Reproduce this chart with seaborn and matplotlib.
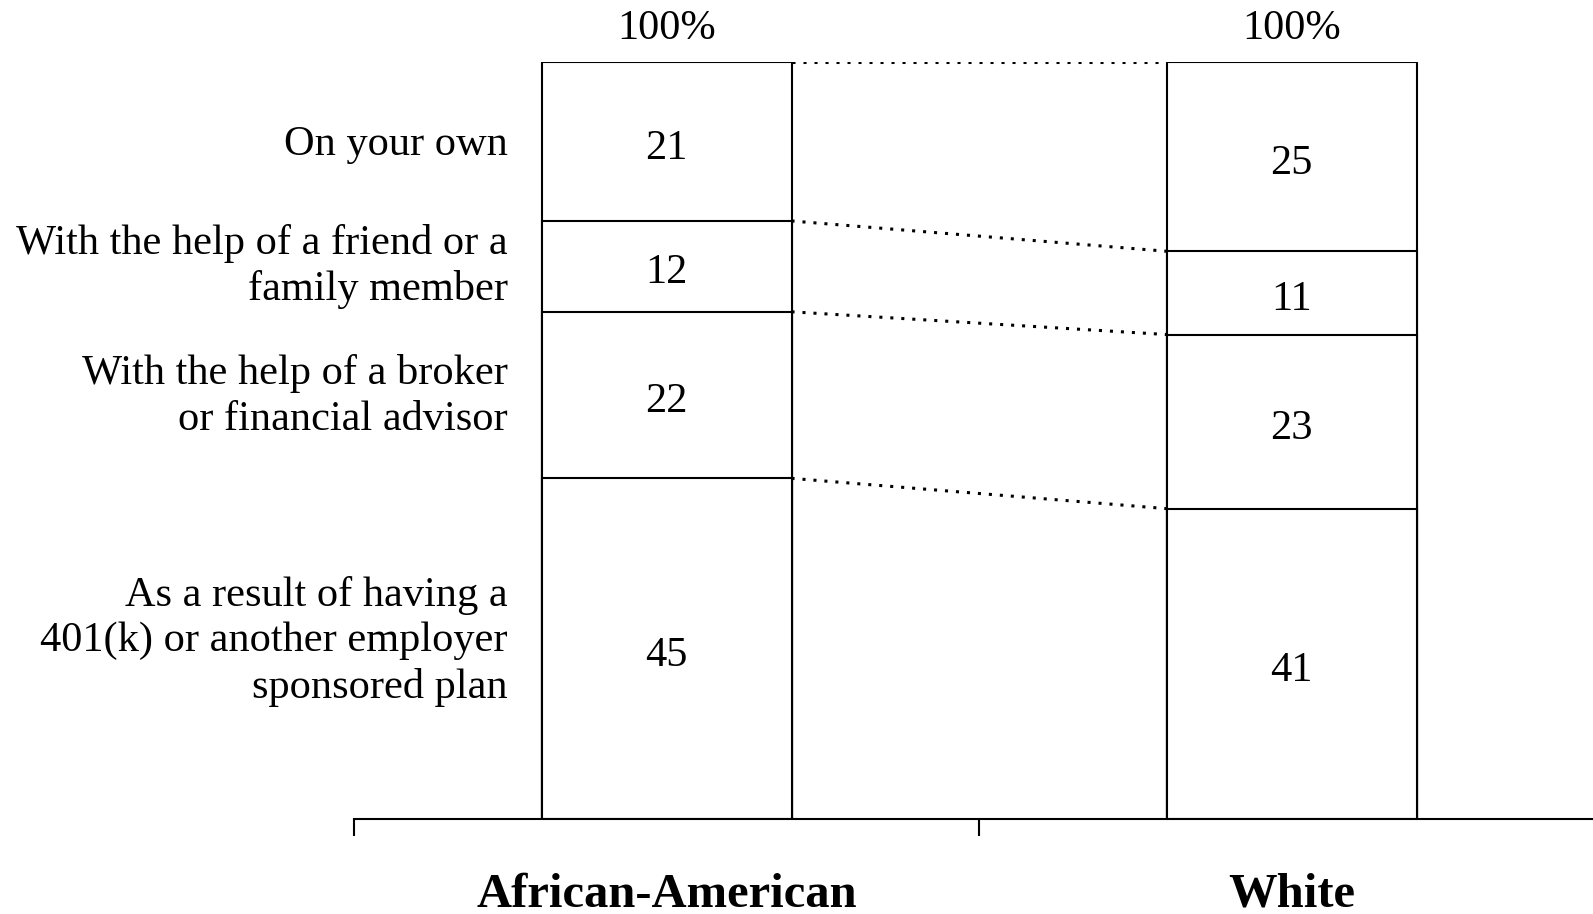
import numpy as np
import pandas as pd
import matplotlib
matplotlib.use("Agg")
import matplotlib.pyplot as plt
import seaborn as sns

groups = ["African-American", "White"]
segments = [
    "As a result of having a\n401(k) or another employer\nsponsored plan",
    "With the help of a broker\nor financial advisor",
    "With the help of a friend or a\nfamily member",
    "On your own",
]
# values listed bottom -> top
aa_vals = [45, 22, 12, 21]
white_vals = [41, 23, 11, 25]
total_labels = ["100%", "100%"]

sns.set_theme(style="white")
plt.rcParams["font.family"] = ["Liberation Serif", "DejaVu Serif"]
plt.rcParams["text.color"] = "black"

vals = np.array([aa_vals, white_vals])
cum = vals.cumsum(axis=1)

fig = plt.figure(figsize=(15.93, 9.14), dpi=100)
ax = fig.add_axes([354 / 1593, 95 / 914, 1250 / 1593, 757 / 914])

# stacked bars: draw cumulative totals from largest to smallest
for k in range(cum.shape[1] - 1, -1, -1):
    df = pd.DataFrame({"group": groups, "value": cum[:, k]})
    sns.barplot(data=df, x="group", y="value", order=groups, width=0.4,
                color="white", edgecolor="black", linewidth=1.5,
                saturation=1, ax=ax, zorder=2)

ax.set_xlim(-0.5, 1.5)
ax.set_ylim(0, 100)

# dotted connectors between segment boundaries
for k in range(cum.shape[1]):
    ax.plot([0.2, 0.8], [cum[0, k], cum[1, k]], color="black",
            linewidth=2.2, linestyle=(0, (1.0, 2.6)), zorder=1,
            dash_capstyle="butt")

# segment values
for i in range(len(groups)):
    bottoms = np.concatenate([[0], cum[i, :-1]])
    for b, v in zip(bottoms, vals[i]):
        ax.text(i, b + v / 2 - 0.9, str(v), ha="center", va="center",
                fontsize=30.5, color="black", zorder=3)
    ax.text(i, 103, total_labels[i], ha="center", va="baseline",
            fontsize=30.5, color="black", clip_on=False)

# segment names on the left, aligned with first bar
nudge = [1.0, -0.2, 0.0, -0.4]
bottoms = np.concatenate([[0], cum[0, :-1]])
for b, v, name, dy in zip(bottoms, vals[0], segments, nudge):
    ax.text(-0.254, b + v / 2 + dy, name, ha="right", va="center",
            fontsize=30.5, linespacing=1.24, color="black", clip_on=False)

# group names
for i, g in enumerate(groups):
    ax.text(i, -11.6, g, ha="center", va="baseline", fontsize=35,
            fontweight="bold", color="black", clip_on=False)

for s in ["top", "right", "left"]:
    ax.spines[s].set_visible(False)
ax.spines["bottom"].set_linewidth(1.5)
ax.spines["bottom"].set_color("black")
ax.set_xticks([-0.5, 0.5, 1.5])
ax.set_xticklabels([])
ax.tick_params(axis="x", direction="out", length=12, width=1.5,
               color="black", bottom=True)
ax.set_yticks([])
ax.set_xlabel("")
ax.set_ylabel("")

fig.savefig("out.png", dpi=100)
